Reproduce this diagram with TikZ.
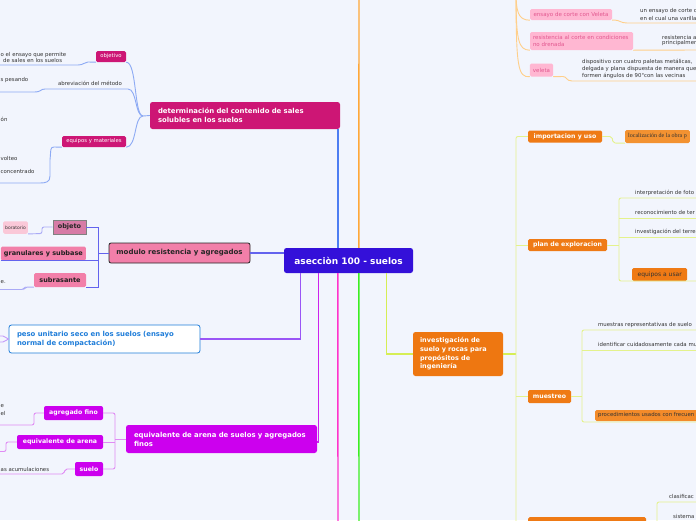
\documentclass[tikz,border=0pt]{standalone}
\usepackage{fontspec}
\setmainfont{DejaVu Sans}
\newfontfamily\serifr{Liberation Serif}
\definecolor{bg}{HTML}{F2F5FD}
\definecolor{cenc}{HTML}{3410D9}
\definecolor{detc}{HTML}{CD1675}
\definecolor{modc}{HTML}{F27FA9}
\definecolor{objc}{HTML}{D77BA6}
\definecolor{lpk}{HTML}{FAC8D8}
\definecolor{pesoc}{HTML}{1F7DD9}
\definecolor{eqc}{HTML}{CC00EE}
\definecolor{invc}{HTML}{EE7711}
\definecolor{impc}{HTML}{EF7A15}
\definecolor{locc}{HTML}{F39231}
\definecolor{procc}{HTML}{F38B2A}
\definecolor{pkbox}{HTML}{FFB7D2}
\definecolor{pktext}{HTML}{E2578F}
\definecolor{txtc}{HTML}{333333}
\definecolor{bline}{HTML}{8DAAF4}
\definecolor{mblue}{HTML}{4D7DF2}
\definecolor{mor}{HTML}{FFA738}
\definecolor{lor}{HTML}{FFCF8A}
\definecolor{yg}{HTML}{D6EE55}
\definecolor{lyg}{HTML}{E4F28C}
\definecolor{mgreen}{HTML}{3CEE22}
\definecolor{mpink}{HTML}{FF33CC}
\definecolor{mmag}{HTML}{CC22EE}
\definecolor{lmag}{HTML}{E08CF4}
\definecolor{mpur}{HTML}{9A55F6}
\definecolor{modl}{HTML}{6363EE}
\definecolor{lmodl}{HTML}{AAAAF6}
\tikzset{
  cen/.style={fill=cenc, rounded corners=2.5pt, minimum width=129pt, minimum height=25pt, inner sep=0pt, text=white, font=\fontsize{9}{11}\selectfont\bfseries},
  bigbox/.style={rounded corners=2.5pt, inner xsep=8pt, inner ysep=0pt, minimum height=28pt, text width=175pt, align=left, font=\fontsize{6.9}{9}\selectfont\bfseries},
  magsm/.style={fill=detc, rounded corners=1.5pt, text=white, font=\fontsize{5.3}{6}\selectfont, minimum height=11pt, inner xsep=2pt, inner ysep=0pt},
  leaf/.style={font=\fontsize{5.4}{6}\selectfont, text=txtc, inner sep=0pt},
  pinkb/.style={fill=modc, rounded corners=1.5pt, text=txtc!60!black, font=\fontsize{6.5}{8}\selectfont\bfseries, minimum height=14pt, inner xsep=3pt, inner ysep=0pt},
  eqsm/.style={fill=eqc, rounded corners=2pt, text=white, font=\fontsize{6.2}{7}\selectfont\bfseries, minimum height=14pt, inner xsep=2pt, inner ysep=0pt},
  orb/.style={fill=impc, rounded corners=1.5pt, text=white, font=\fontsize{6.2}{7}\selectfont\bfseries, minimum height=12pt, inner xsep=2pt, inner ysep=0pt},
  orl/.style={rounded corners=1.5pt, text=txtc, inner xsep=3pt, inner ysep=0pt},
  pkb/.style={fill=pkbox, rounded corners=1.5pt, text=pktext, font=\fontsize{5.5}{6.8}\selectfont, inner xsep=3pt, inner ysep=0pt},
  bl/.style={draw=bline, line width=0.9pt},
  ml/.style={draw=lmag, line width=0.9pt, rounded corners=2pt},
  yl/.style={draw=lyg, line width=0.9pt, rounded corners=2pt},
  ol/.style={draw=lor, line width=0.9pt},
  modline/.style={draw=modl, line width=0.9pt},
  lmodline/.style={draw=lmodl, line width=0.9pt, rounded corners=2pt},
}
\begin{document}
\begin{tikzpicture}[x=1pt,y=-1pt]
\fill[bg] (0,0) rectangle (696,520);
\useasboundingbox (0,0) rectangle (696,520);

% ---------- nodes ----------
\node[cen] (c) at (348.5,260.5) {asecciòn 100 - suelos};

\node[bigbox, fill=detc, text=white, minimum height=27pt, text width=174pt] (det) at (245,115.5) {determinación del contenido de sales\\solubles en los suelos};
\node[magsm, minimum width=30pt] (obj) at (111,56.5) {objetivo};
\node[leaf] (abr) at (90,83) {abreviación del método};
\node[magsm, minimum width=64pt] (eqm) at (94,141.5) {equipos y materiales};

\node[leaf, anchor=west] (t1) at (0.5,55) {o el ensayo que permite};
\node[leaf, anchor=west] (t2) at (3,60.5) {de sales en los suelos};
\node[leaf, anchor=west] (t3) at (0.5,80) {s pesando};
\node[leaf, anchor=west] (t4) at (0.5,119) {ón};
\node[leaf, anchor=west] (t5) at (0.5,158) {volteo};
\node[leaf, anchor=west] (t6) at (0.5,171) {concentrado};

\node[fill=modc, draw=black!85, line width=0.8pt, rounded corners=2pt, minimum width=141pt, minimum height=20pt, inner sep=0pt, font=\fontsize{7}{8}\selectfont\bfseries, text=black!85] (mod) at (179.5,253) {modulo resistencia y agregados};
\node[fill=objc, draw=black!50, line width=0.8pt, minimum width=33pt, minimum height=14pt, inner sep=0pt, font=\fontsize{6.5}{8}\selectfont\bfseries, text=black!85] (objeto) at (69.5,227) {objeto};
\node[fill=lpk, rounded corners=1.5pt, minimum height=12.5pt, inner xsep=2pt, inner ysep=0pt, font=\fontsize{4.5}{5}\selectfont, text=txtc, anchor=east] (bor) at (28,227.5) {boratorio};
\node[pinkb, anchor=east] (gran) at (86,253.5) {granulares y subbase};
\node[pinkb, minimum width=52pt] (sub) at (60,280) {subrasante};
\node[leaf, anchor=west] (t7) at (0.5,282) {e.};

\node[bigbox, fill=white, draw=pesoc, line width=0.8pt, text=pesoc] (peso) at (104.5,339) {peso unitario seco en los suelos (ensayo\\normal de compactación)};

\node[bigbox, fill=eqc, text=white] (eq) at (221.5,439) {equivalente de arena de suelos y agregados\\finos};
\node[eqsm, minimum width=59pt] (agf) at (73.5,413) {agregado fino};
\node[eqsm, minimum width=86pt] (eqa) at (60,442) {equivalente de arena};
\node[eqsm, minimum width=28pt] (sue) at (89,469) {suelo};
\node[leaf, anchor=west] (t8) at (0.5,406.5) {e};
\node[leaf, anchor=west] (t9) at (0.5,413) {el};
\node[leaf, anchor=west] (t10) at (0.5,469) {as acumulaciones};

\node[fill=invc, rounded corners=2.5pt, inner xsep=7pt, inner ysep=0pt, minimum height=44pt, text width=76pt, align=left, text=white, font=\fontsize{6.5}{8.7}\selectfont\bfseries] (inv) at (458,354) {investigación de\\suelo y rocas para\\propósitos de\\ingeniería};
\node[orb, minimum width=74pt] (imp) at (565,136.5) {importacion y uso};
\node[orb, minimum width=79pt] (plan) at (567.5,245) {plan de exploracion};
\node[orb, minimum width=43pt, minimum height=13pt] (mue) at (549.5,396.5) {muestreo};
\node[orl, fill=locc, minimum height=13pt, anchor=west, font=\serifr\fontsize{6}{7}\selectfont] (loc) at (625,136.5) {localización de la obra p};
\node[orl, fill=impc, minimum height=13pt, minimum width=55pt, anchor=west, font=\fontsize{6}{7}\selectfont] (equ) at (632,274.5) {equipos a usar};
\node[orl, fill=procc, minimum height=11pt, anchor=west, font=\fontsize{5.4}{6}\selectfont] (proc) at (595,415.5) {procedimientos usados con frecuen};
\node[orb, anchor=north west, minimum width=118pt, minimum height=12pt] (bot) at (528,517) {};

\node[leaf, anchor=west] (r1) at (635,193) {interpretación de foto};
\node[leaf, anchor=west] (r2) at (635,212) {reconocimiento de ter};
\node[leaf, anchor=west] (r3) at (635,232) {investigación del terre};
\node[leaf, anchor=west] (r4) at (598,325) {muestras representativas de suelo};
\node[leaf, anchor=west] (r5) at (598,344.5) {identificar cuidadosamente cada mu};
\node[leaf, anchor=west] (r6) at (669,496) {clasificac};
\node[leaf, anchor=west] (r7) at (673,516) {sistema};

\node[pkb, minimum width=82pt, minimum height=11pt] (ens) at (571,14.5) {ensayo de corte con Veleta};
\node[pkb, minimum width=103pt, minimum height=18pt, text width=97pt, align=left] (res) at (581.5,41) {resistencia al corte en condiciones\\no drenada};
\node[pkb, minimum width=23pt, minimum height=13pt] (vel) at (541.5,70) {veleta};
\node[leaf, anchor=west] (s1) at (640,11) {un ensayo de corte c};
\node[leaf, anchor=west] (s2) at (640,18) {en el cual una varilla};
\node[leaf, anchor=west] (s3) at (662,37) {resistencia a};
\node[leaf, anchor=west] (s4) at (662,43.5) {principalmen};
\node[leaf, anchor=west] (s5) at (582,62) {dispositivo con cuatro paletas metálicas,};
\node[leaf, anchor=west] (s6) at (582,69) {delgada y plana dispuesta de manera que};
\node[leaf, anchor=west] (s7) at (582,76) {formen ángulos de 90°con las vecinas};

% ---------- free-end coordinates ----------
\coordinate (topO) at (359,-5);
\coordinate (botPink) at (338,525);
\coordinate (botGreen) at (359,525);
\coordinate (vp) at (516,-10);
\coordinate (dj) at (143,116);
\coordinate (abrR) at (128,89);
\coordinate (abrL) at (45,89);
\coordinate (mj) at (98,253);
\coordinate (ej) at (115,439);
\coordinate (ij) at (516,354);
\coordinate (ijB) at (516,525);
\coordinate (pj) at (619,245);
\coordinate (mj2) at (582,396.5);

% ---------- main trunks ----------
\draw[draw=mblue, line width=1.4pt] ([xshift=54pt]c.north west) -- ([xshift=54pt]c.north west |- det.south);
\draw[draw=mor, line width=1.4pt] ([xshift=75pt]c.north west) -- (topO);
\draw[draw=mpur, line width=1.2pt] ([xshift=17pt]c.south west) |- (peso.east);
\draw[draw=mmag, line width=1.3pt] ([xshift=35pt]c.south west) |- ([yshift=-3pt]eq.east);
\draw[draw=mpink, line width=1.4pt] ([xshift=54pt]c.south west) -- (botPink);
\draw[draw=mgreen, line width=1.4pt] ([xshift=75pt]c.south west) -- (botGreen);
\draw[draw=yg, line width=1.2pt] ([xshift=103pt]c.south west) |- (inv.west);
\draw[modline, line width=1.1pt] (c.west |- mod.east) -- (mod.east);

% ---------- determinacion ----------
\draw[bl] (det.west) -- (dj);
\draw[bl] (dj) .. controls (134,116) and (137,62) .. (obj.south east);
\draw[bl] (dj) .. controls (135,116) and (137,89) .. (abrR) -- (abrL) .. controls (40,89) and (42,92) .. (34,92) -- (-2,92);
\draw[bl] (dj) .. controls (134,116) and (137,147) .. (eqm.south east);
\draw[bl] (obj.south west) -- (88,62) .. controls (84,62) and (84,65) .. (78,65) -- (-2,65);
\draw[bl] (eqm.south west) -- (54,147) .. controls (50,147) and (51,150) .. (50,160) -- (50,176) .. controls (50,182) and (46,183) .. (40,183) -- (-2,183);

% ---------- modulo ----------
\draw[modline] (mod.west) -- (mj);
\draw[modline] (objeto.east) -- (objeto.east -| mj) -- (sub.south -| mj) -- (sub.south east);
\draw[modline] (gran.south west) -- (gran.south -| mj);
\draw[lmodline] (objeto.west) -- (42,227) -- (42,233.5) -- (bor.south east);
\draw[lmodline] (sub.south west) -- (25,287) -- (24,289.5) -- (-2,289.5);

% ---------- peso ----------
\draw[draw=mpur!60, line width=0.9pt] (peso.west) -- (3,336) -- (-2,336);
\draw[draw=mpur!60, line width=0.9pt] (peso.west) -- (3,342) -- (-2,342);

% ---------- equivalente ----------
\draw[ml] (eq.west) -- (ej);
\draw[ml] (agf.east) -- (agf.east -| ej) -- (sue.east -| ej) -- (sue.east);
\draw[ml] (eqa.east) -- (eqa.east -| ej);
\draw[ml] (agf.west) -- (34,413) -- (34,425) -- (-2,425);
\draw[ml] (eqa.west) -- (6,442) -- (6,451.5) -- (-2,451.5);
\draw[ml] (sue.west) -- (65,469) -- (64,474) -- (-2,474);

% ---------- investigacion ----------
\draw[draw=yg, line width=1.2pt] (inv.east) -- (ij);
\draw[yl] (imp.west) -- (imp.west -| ij) -- (ijB);
\draw[yl] (plan.west) -- (plan.west -| ij);
\draw[yl] (mue.west) -- (mue.west -| ij);
\draw[yl] (imp.east) -- (612,136.5) -- (613,143) -- (loc.south west);
\draw[yl] (plan.east) -- (pj);
\draw[yl] (700,198) -- (619,198) -- (619,281) -- (700,281);
\draw[yl] (619,218) -- (700,218);
\draw[yl] (619,237) -- (700,237);
\draw[yl] (mue.east) -- (mj2);
\draw[yl] (700,330) -- (582,330) -- (582,422) -- (700,422);
\draw[yl] (582,350) -- (700,350);
\draw[yl] (bot.east) -- (657,523) -- (657,502) -- (700,502);

% ---------- top right ----------
\draw[ol] (vp) .. controls (516,12) and (518,20) .. (ens.south west);
\draw[ol] (vp) .. controls (516,40) and (518,50) .. (res.south west);
\draw[ol] (vp) .. controls (516,68) and (518,77.5) .. (vel.south west);
\draw[ol] (ens.south east) -- (614,20) .. controls (620,20) and (620,23) .. (627,23) -- (700,23);
\draw[ol] (res.south east) -- (700,50);
\draw[ol] (vel.south east) -- (563,76.5) .. controls (567,76.5) and (566,81) .. (572,81) -- (700,81);
\end{tikzpicture}
\end{document}
